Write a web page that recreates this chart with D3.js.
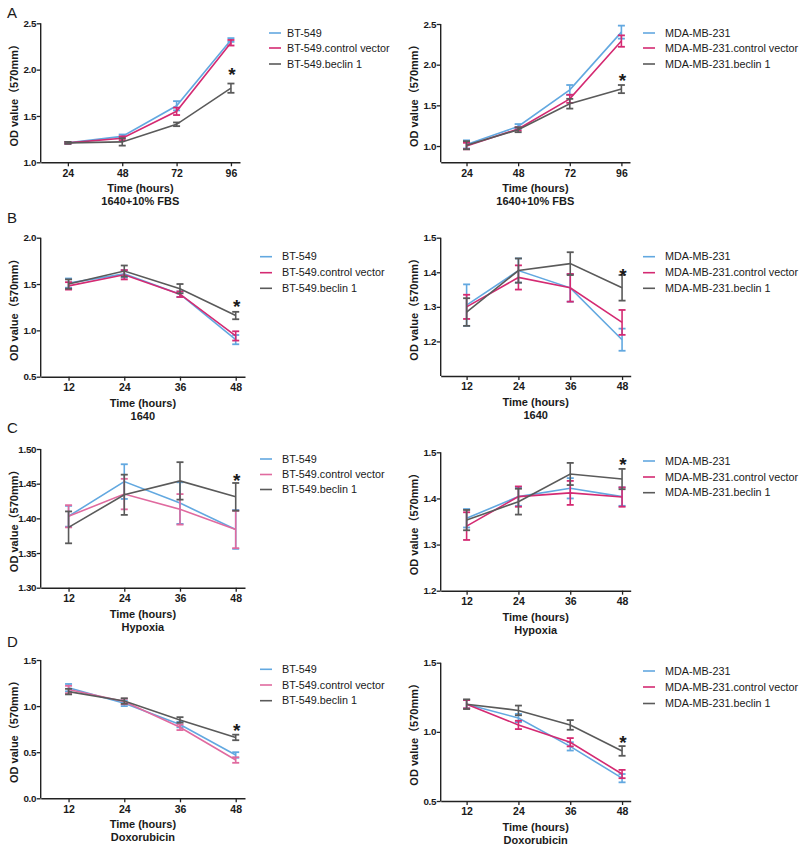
<!DOCTYPE html>
<html>
<head>
<meta charset="utf-8">
<script src="https://cdn.jsdelivr.net/npm/d3@7"></script>
<style>
  html, body { margin: 0; padding: 0; background: #fff; }
  svg { display: block; }
  text { font-family: "Liberation Sans", Arial, "Noto Sans CJK SC", sans-serif; fill: #1a1a1a; }
</style>
</head>
<body>
<svg id="chart" width="800" height="850"></svg>
<script>
// ---------------- DATA ----------------
const panelLetters = ["A", "B", "C", "D"];
const conditions = ["1640+10% FBS", "1640", "Hypoxia", "Doxorubicin"];
const timesA = [24, 48, 72, 96];
const timesBCD = [12, 24, 36, 48];
const seriesBT = ["BT-549", "BT-549.control vector", "BT-549.beclin 1"];
const seriesMDA = ["MDA-MB-231", "MDA-MB-231.control vector", "MDA-MB-231.beclin 1"];
const yLabel = "OD value（570mm）";
const xLabel = "Time (hours)";

// means: [parental, control vector, beclin 1] x time points
const A_BT_mean = [[1.21, 1.28, 1.61, 2.32], [1.21, 1.26, 1.55, 2.29], [1.21, 1.22, 1.41, 1.80]];
const A_BT_err  = [[0.01, 0.02, 0.05, 0.02], [0.01, 0.02, 0.04, 0.03], [0.01, 0.04, 0.02, 0.05]];
const A_MDA_mean = [[1.02, 1.24, 1.69, 2.40], [1.00, 1.21, 1.58, 2.29], [1.01, 1.20, 1.52, 1.70]];
const A_MDA_err  = [[0.05, 0.03, 0.06, 0.08], [0.04, 0.02, 0.05, 0.07], [0.05, 0.03, 0.06, 0.05]];

const B_BT_mean = [[1.51, 1.61, 1.39, 0.90], [1.48, 1.60, 1.39, 0.94], [1.50, 1.64, 1.45, 1.16]];
const B_BT_err  = [[0.05, 0.04, 0.03, 0.05], [0.04, 0.05, 0.03, 0.05], [0.05, 0.06, 0.05, 0.04]];
const B_MDA_mean = [[1.305, 1.405, 1.355, 1.205], [1.30, 1.385, 1.355, 1.255], [1.285, 1.405, 1.425, 1.355]];
const B_MDA_err  = [[0.06, 0.035, 0.04, 0.032], [0.035, 0.035, 0.04, 0.036], [0.04, 0.035, 0.033, 0.037]];

const C_BT_mean = [[1.403, 1.453, 1.422, 1.384], [1.403, 1.435, 1.413, 1.384], [1.387, 1.434, 1.454, 1.431]];
const C_BT_err  = [[0.015, 0.025, 0.03, 0.028], [0.016, 0.022, 0.022, 0.027], [0.023, 0.029, 0.027, 0.02]];
const C_MDA_mean = [[1.357, 1.404, 1.422, 1.404], [1.34, 1.404, 1.412, 1.403], [1.353, 1.393, 1.453, 1.442]];
const C_MDA_err  = [[0.02, 0.02, 0.022, 0.02], [0.03, 0.022, 0.026, 0.021], [0.022, 0.028, 0.024, 0.022]];

const D_BT_mean = [[1.20, 1.03, 0.80, 0.47], [1.18, 1.05, 0.77, 0.415], [1.157, 1.055, 0.85, 0.66]];
const D_BT_err  = [[0.04, 0.03, 0.03, 0.03], [0.04, 0.03, 0.03, 0.03], [0.03, 0.03, 0.03, 0.03]];
const D_MDA_mean = [[1.20, 1.10, 0.895, 0.665], [1.20, 1.05, 0.925, 0.695], [1.20, 1.155, 1.05, 0.862]];
const D_MDA_err  = [[0.03, 0.03, 0.03, 0.03], [0.03, 0.03, 0.03, 0.03], [0.035, 0.035, 0.035, 0.035]];

// y-axis domains and tick labels
const yDomains = [[1.0, 2.5], [0.8, 2.5], [0.5, 2.0], [1.1, 1.5], [1.30, 1.50], [1.2, 1.5], [0.0, 1.5], [0.5, 1.5]];
const yTicks = [
  [1.0, 1.5, 2.0, 2.5], [1.0, 1.5, 2.0, 2.5],
  [0.5, 1.0, 1.5, 2.0], [1.2, 1.3, 1.4, 1.5],
  [1.30, 1.35, 1.40, 1.45, 1.50], [1.2, 1.3, 1.4, 1.5],
  [0.0, 0.5, 1.0, 1.5], [0.5, 1.0, 1.5]
];
const yTickFormats = [".1f", ".1f", ".1f", ".1f", ".2f", ".1f", ".1f", ".1f"];
// significance asterisk height (value units) at the last time point
const starValues = [1.98, 1.843, 1.292, 1.402, 1.460, 1.481, 0.777, 0.948];

// ---------------- LAYOUT ----------------
const colBlue = "#62a8e0";
const colGray = "#5a5a5a";
const layouts = [
  {xr: [40.7, 240], xd: [12, 100], yr: [162.3, 23.3], legLine: 269, legText: 287, rows: [33, 48, 64], pink: "#d42a72"},
  {xr: [440.7, 630], xd: [12, 100], yr: [162.3, 24], legLine: 643, legText: 665, rows: [33, 48, 64], pink: "#d42a72"},
  {xr: [40.7, 245], xd: [6, 50], yr: [376.7, 237.7], legLine: 260, legText: 282, rows: [256.7, 272.7, 288.3], pink: "#d42a72"},
  {xr: [440.7, 630.7], xd: [6, 50], yr: [376, 237.7], legLine: 643, legText: 665, rows: [256.7, 272.7, 288.3], pink: "#d42a72"},
  {xr: [40.7, 245], xd: [6, 50], yr: [587.7, 449], legLine: 260, legText: 282, rows: [459, 474.5, 489.5], pink: "#e06a9f"},
  {xr: [440.7, 630.7], xd: [6, 50], yr: [590.7, 452.3], legLine: 643, legText: 665, rows: [461, 477, 492.7], pink: "#d42a72"},
  {xr: [40.7, 245], xd: [6, 50], yr: [798.3, 660], legLine: 260, legText: 282, rows: [669.3, 685, 700.7], pink: "#e06a9f"},
  {xr: [440.7, 630.7], xd: [6, 50], yr: [801, 662.7], legLine: 643, legText: 665, rows: [671, 687, 703.5], pink: "#d42a72"}
];
const letterY = [18, 223, 433, 647];

const panelData = [
  {times: timesA, series: seriesBT, mean: A_BT_mean, err: A_BT_err},
  {times: timesA, series: seriesMDA, mean: A_MDA_mean, err: A_MDA_err},
  {times: timesBCD, series: seriesBT, mean: B_BT_mean, err: B_BT_err},
  {times: timesBCD, series: seriesMDA, mean: B_MDA_mean, err: B_MDA_err},
  {times: timesBCD, series: seriesBT, mean: C_BT_mean, err: C_BT_err},
  {times: timesBCD, series: seriesMDA, mean: C_MDA_mean, err: C_MDA_err},
  {times: timesBCD, series: seriesBT, mean: D_BT_mean, err: D_BT_err},
  {times: timesBCD, series: seriesMDA, mean: D_MDA_mean, err: D_MDA_err}
];

const svg = d3.select("#chart");

panelLetters.forEach((L, i) => {
  svg.append("text").attr("x", 7).attr("y", letterY[i])
    .attr("font-size", 15).text(L);
});

panelData.forEach((pd, p) => {
  const lay = layouts[p];
  const row = Math.floor(p / 2);
  const g = svg.append("g");
  const x = d3.scaleLinear().domain(lay.xd).range(lay.xr);
  const y = d3.scaleLinear().domain(yDomains[p]).range(lay.yr);
  const colors = [colBlue, lay.pink, colGray];
  const axisY = lay.yr[0];
  const axisX = lay.xr[0];

  // y axis
  const ya = g.append("g").attr("transform", `translate(${axisX},0)`)
    .call(d3.axisLeft(y).tickValues(yTicks[p]).tickFormat(d3.format(yTickFormats[p])).tickSize(4).tickPadding(0.5).tickSizeOuter(0));
  ya.select(".domain").attr("d", `M0,${axisY}V${y(yTicks[p][yTicks[p].length - 1])}`)
    .attr("stroke", "#222").attr("stroke-width", 1.4);
  ya.selectAll(".tick line").attr("stroke", "#222").attr("stroke-width", 1.3);
  ya.selectAll(".tick text").attr("font-size", 9.8).attr("font-weight", "bold")
    .attr("font-family", '"Liberation Sans", Arial, sans-serif').attr("fill", "#1a1a1a")
    .attr("letter-spacing", -0.3);

  // x axis
  const xa = g.append("g").attr("transform", `translate(0,${axisY})`)
    .call(d3.axisBottom(x).tickValues(pd.times).tickFormat(d3.format("d")).tickSize(4).tickPadding(3).tickSizeOuter(0));
  xa.select(".domain").attr("stroke", "#222").attr("stroke-width", 1.4);
  xa.selectAll(".tick line").attr("stroke", "#222").attr("stroke-width", 1.3);
  xa.selectAll(".tick text").attr("font-size", 10.5).attr("font-weight", "bold")
    .attr("font-family", '"Liberation Sans", Arial, sans-serif').attr("fill", "#1a1a1a");

  const xMid = (lay.xr[0] + lay.xr[1]) / 2;
  g.append("text").attr("x", xMid).attr("y", axisY + 30).attr("text-anchor", "middle")
    .attr("font-size", 11).attr("font-weight", "bold").text(xLabel);
  g.append("text").attr("x", xMid).attr("y", axisY + 43).attr("text-anchor", "middle")
    .attr("font-size", 11).attr("font-weight", "bold").text(conditions[row]);

  // y label
  const yMid = (lay.yr[0] + lay.yr[1]) / 2;
  g.append("text").attr("transform", `translate(${axisX - 22.5},${yMid}) rotate(-90)`)
    .attr("text-anchor", "middle").attr("font-size", 11).attr("font-weight", "bold")
    .text(yLabel);

  // series
  pd.mean.forEach((vals, s) => {
    const pts = vals.map((v, k) => ({t: pd.times[k], v: v, e: pd.err[s][k]}));
    const sg = g.append("g");
    sg.append("path").datum(pts)
      .attr("fill", "none").attr("stroke", colors[s]).attr("stroke-width", 1.6)
      .attr("d", d3.line().x(d => x(d.t)).y(d => y(d.v)));
    const eb = sg.selectAll(".eb").data(pts).enter().append("g");
    eb.append("line").attr("x1", d => x(d.t)).attr("x2", d => x(d.t))
      .attr("y1", d => y(d.v - d.e)).attr("y2", d => y(d.v + d.e))
      .attr("stroke", colors[s]).attr("stroke-width", 1.6);
    eb.append("line").attr("x1", d => x(d.t) - 3.5).attr("x2", d => x(d.t) + 3.5)
      .attr("y1", d => y(d.v + d.e)).attr("y2", d => y(d.v + d.e))
      .attr("stroke", colors[s]).attr("stroke-width", 1.8);
    eb.append("line").attr("x1", d => x(d.t) - 3.5).attr("x2", d => x(d.t) + 3.5)
      .attr("y1", d => y(d.v - d.e)).attr("y2", d => y(d.v - d.e))
      .attr("stroke", colors[s]).attr("stroke-width", 1.8);
  });

  // asterisk
  const lastT = pd.times[pd.times.length - 1];
  g.append("text").attr("x", x(lastT) + 1).attr("y", y(starValues[p]) + 10)
    .attr("text-anchor", "middle").attr("font-size", 19).attr("font-weight", "bold")
    .text("*");

  // legend
  pd.series.forEach((name, s) => {
    g.append("line").attr("x1", lay.legLine).attr("x2", lay.legLine + 12)
      .attr("y1", lay.rows[s]).attr("y2", lay.rows[s])
      .attr("stroke", colors[s]).attr("stroke-width", 1.6);
    g.append("text").attr("x", lay.legText).attr("y", lay.rows[s])
      .attr("dy", "0.35em").attr("font-size", 10.8).attr("fill", "#333").text(name);
  });
});
</script>
</body>
</html>
